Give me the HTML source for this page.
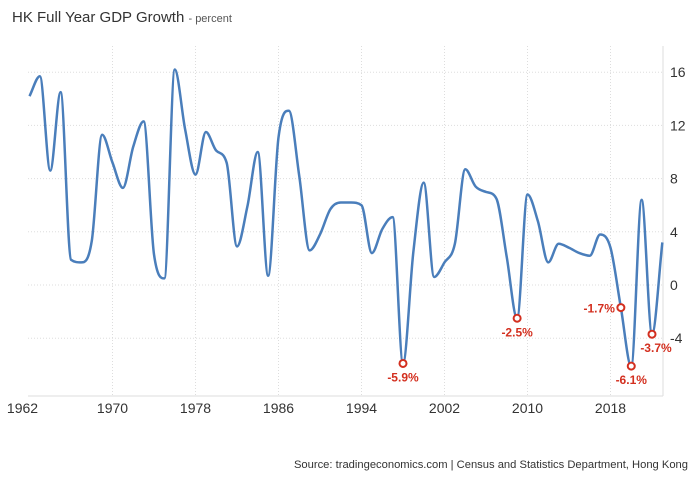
<!DOCTYPE html>
<html><head><meta charset="utf-8"><style>
body{margin:0;background:#fff;font-family:"Liberation Sans",Arial,sans-serif}
svg{display:block}
</style></head><body>
<svg id="c" width="700" height="479" viewBox="0 0 700 479">
<text x="12" y="22" font-size="15" fill="#333">HK Full Year GDP Growth <tspan font-size="11" fill="#555">- percent</tspan></text>
<g id="grid"></g>
<line x1="663" y1="46" x2="663" y2="396" stroke="#ddd"/>
<line x1="28" y1="396" x2="663" y2="396" stroke="#ddd"/>
<g id="series"></g>
<text x="688" y="468" font-size="11.2" fill="#333" text-anchor="end">Source: tradingeconomics.com | Census and Statistics Department, Hong Kong</text>
</svg>
<script>
const years=[1962,1963,1964,1965,1966,1967,1968,1969,1970,1971,1972,1973,1974,1975,1976,1977,1978,1979,1980,1981,1982,1983,1984,1985,1986,1987,1988,1989,1990,1991,1992,1993,1994,1995,1996,1997,1998,1999,2000,2001,2002,2003,2004,2005,2006,2007,2008,2009,2010,2011,2012,2013,2014,2015,2016,2017,2018,2019,2020,2021,2022,2023];
const growth=[14.2,15.7,8.6,14.5,1.9,1.7,3.3,11.3,9.2,7.3,10.4,12.3,2.3,0.5,16.2,11.7,8.3,11.5,10.1,9.2,2.9,5.9,10.0,0.7,11.1,13.1,8.2,2.6,3.8,5.7,6.2,6.2,6.0,2.4,4.2,5.1,-5.9,2.5,7.7,0.6,1.7,3.1,8.7,7.4,7.0,6.5,2.1,-2.5,6.8,4.8,1.7,3.1,2.8,2.4,2.2,3.8,2.8,-1.7,-6.1,6.4,-3.7,3.2];
const xTicks=[1962,1970,1978,1986,1994,2002,2010,2018];
const yTicks=[-4,0,4,8,12,16];
const highlightYears=[1998,2009,2019,2020,2022];
const NS="http://www.w3.org/2000/svg";
const X=y=>610.5+(y-2018)*10.375;
const Y=v=>285-v*13.3;
function mk(t,a,p){const e=document.createElementNS(NS,t);for(const k in a)e.setAttribute(k,a[k]);p.appendChild(e);return e;}
const grid=document.getElementById('grid'),ser=document.getElementById('series');
yTicks.forEach(v=>{
 const l=mk('line',{x1:28,x2:663,y1:Y(v),y2:Y(v),stroke:'#ddd','stroke-dasharray':'1,2'},grid);
 
 
 const t=mk('text',{x:670,y:Y(v)+5,'font-size':14,fill:'#333'},grid);t.textContent=v;
 
 
});
xTicks.forEach(yr=>{
 if(yr>1962){const l=mk('line',{x1:X(yr),x2:X(yr),y1:46,y2:396,stroke:'#ddd','stroke-dasharray':'1,2'},grid);
 
 }
 const t=mk('text',{x:X(yr)+(yr==1962?-7:0),y:413,'font-size':14,fill:'#333','text-anchor':'middle'},grid);t.textContent=yr;
 
 
});
const pts=years.map((y,i)=>[X(y),Y(growth[i])]);
const n=pts.length,dx=[],sl=[],m=[];
for(let i=0;i<n-1;i++){dx[i]=pts[i+1][0]-pts[i][0];sl[i]=(pts[i+1][1]-pts[i][1])/dx[i];}
m[0]=sl[0];m[n-1]=sl[n-2];
for(let i=1;i<n-1;i++){m[i]=(sl[i-1]*sl[i]<=0)?0:(sl[i-1]+sl[i])/2;}
for(let i=0;i<n-1;i++){if(sl[i]===0){m[i]=0;m[i+1]=0;continue;}
 const a=m[i]/sl[i],b=m[i+1]/sl[i],s=a*a+b*b;if(s>9){const t=3/Math.sqrt(s);m[i]=t*a*sl[i];m[i+1]=t*b*sl[i];}}
let d='M'+pts[0][0]+','+pts[0][1];
for(let i=0;i<n-1;i++){const h=dx[i]/3;
 d+=` C${pts[i][0]+h},${pts[i][1]+m[i]*h} ${pts[i+1][0]-h},${pts[i+1][1]-m[i+1]*h} ${pts[i+1][0]},${pts[i+1][1]}`;}
const path=mk('path',{d:d,fill:'none',stroke:'#4a7ebb','stroke-width':2.5},ser);


highlightYears.forEach(yr=>{
 const v=growth[years.indexOf(yr)],cx=X(yr),cy=Y(v);
 const c=mk('circle',{cx:cx,cy:cy,r:3.5,fill:'#fff',stroke:'#d32f1f','stroke-width':2},ser);
 
 
 let tx=cx,ty=cy+18,anc='middle';
 if(yr==2019){tx=cx-6;ty=cy+5;anc='end';}
 if(yr==2022){tx=cx+4;}
 const t=mk('text',{x:tx,y:ty,'font-size':12,'font-weight':'bold',fill:'#d32f1f','text-anchor':anc},ser);
 t.textContent=v.toFixed(1)+'%';
 
 
});
</script>
</body></html>
